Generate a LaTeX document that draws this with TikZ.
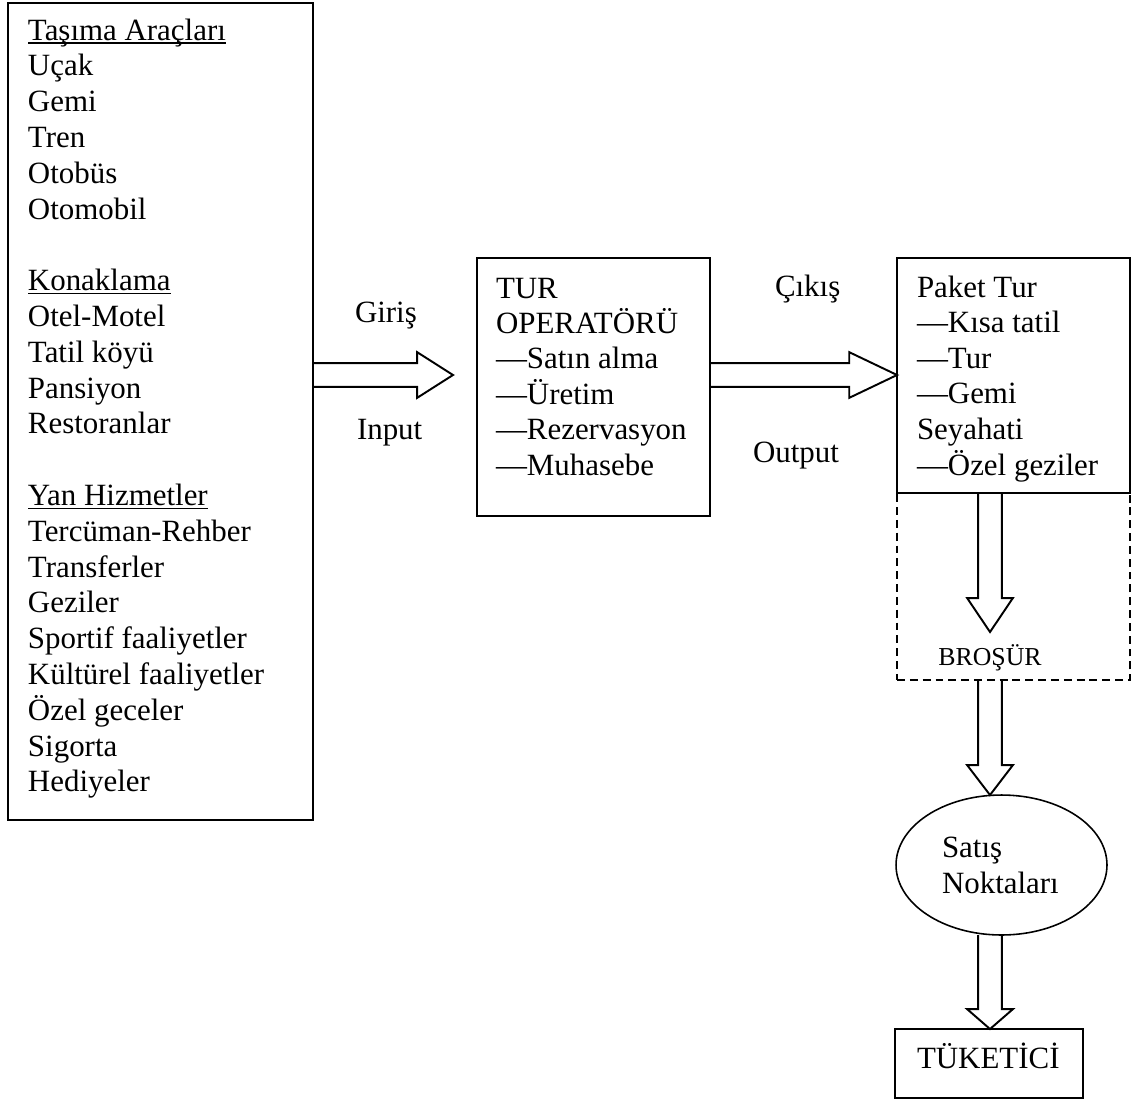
\documentclass[tikz,border=0pt]{standalone}
\usepackage{fontspec}
\setmainfont{Liberation Serif}
\usetikzlibrary{calc,shapes.geometric}

\begin{document}
\begin{tikzpicture}[x=0.02cm,y=-0.02cm,
  box/.style={draw, rectangle, line width=1.1pt, inner sep=0pt, outer sep=0pt},
  dashbox/.style={box, dash pattern=on 4.5pt off 2.8pt},
  txt/.style={inner sep=0pt, outer sep=0pt, anchor=base west, font=\fontsize{17.6}{20}\selectfont},
  head len/.store in=\arrowhl, head len=20pt,
  harrow/.style={line width=1.1pt, line join=miter, to path={
    let \p1=(\tikztostart), \p2=(\tikztotarget) in
    (\x1,\y1+6.8pt) -- (\x2-\arrowhl,\y1+6.8pt) -- (\x2-\arrowhl,\y1+13pt) -- (\x2,\y1)
    -- (\x2-\arrowhl,\y1-13pt) -- (\x2-\arrowhl,\y1-6.8pt) -- (\x1,\y1-6.8pt)}},
  varrow/.style={line width=1.1pt, line join=miter, to path={
    let \p1=(\tikztostart), \p2=(\tikztotarget) in
    (\x1+6.8pt,\y1) -- (\x1+6.8pt,\y2+\arrowhl) -- (\x1+13pt,\y2+\arrowhl) -- (\x1,\y2)
    -- (\x1-13pt,\y2+\arrowhl) -- (\x1-6.8pt,\y2+\arrowhl) -- (\x1-6.8pt,\y1)}}]

\useasboundingbox (0,0) rectangle (1138,1102);

% boxes
\node[box, minimum width=6.1cm, minimum height=16.34cm] (src) at (160.5,411.5) {};
\node[box, minimum width=4.66cm, minimum height=5.16cm] (op) at (593.5,387) {};
\node[dashbox, minimum width=4.66cm, minimum height=3.74cm] (broch) at (1013.5,586.5) {};
\node[box, fill=white, minimum width=4.66cm, minimum height=4.7cm] (pkt) at (1013.5,375.5) {};
\node[draw, ellipse, line width=0.9pt, inner sep=0pt, outer sep=0pt,
      minimum width=4.22cm, minimum height=2.8cm] (ell) at (1001.5,865) {};
\node[box, minimum width=3.76cm, minimum height=1.38cm] (tuk) at (989,1063.5) {};

% left list of inputs
\foreach \i/\t in {0/Taşıma Araçları, 1/Uçak, 2/Gemi, 3/Tren, 4/Otobüs, 5/Otomobil,
                   7/Konaklama, 8/Otel-Motel, 9/Tatil köyü, 10/Pansiyon, 11/Restoranlar,
                   13/Yan Hizmetler, 14/Tercüman-Rehber, 15/Transferler, 16/Geziler,
                   17/Sportif faaliyetler, 18/Kültürel faaliyetler, 19/Özel geceler,
                   20/Sigorta, 21/Hediyeler}
  \node[txt] (s\i) at (28,{40+35.8*\i}) {\t};
\foreach \i in {0,7,13}
  \draw[line width=0.9pt] ([yshift=-0.06cm]s\i.base west) -- ([yshift=-0.06cm]s\i.base east);

% tour operator
\foreach \i/\t in {0/TUR, 1/OPERATÖRÜ, 2/—Satın alma, 3/—Üretim, 4/—Rezervasyon, 5/—Muhasebe}
  \node[txt] (o\i) at (496,{298+35.4*\i}) {\t};

% package tour
\foreach \i/\t in {0/Paket Tur, 1/—Kısa tatil, 2/—Tur, 3/—Gemi, 4/Seyahati, 5/—Özel geziler}
  \node[txt] (p\i) at (917,{297+35.6*\i}) {\t};

% arrow labels
\node[txt] (giris) at (355,322) {Giriş};
\node[txt] (input) at (357,439) {Input};
\node[txt] (cikis) at (775,296) {Çıkış};
\node[txt] (output) at (753,462) {Output};
\node[txt, anchor=base, font=\fontsize{14.7}{17}\selectfont] (brlabel) at (990,665) {BROŞÜR};
\node[txt] (satis1) at (942,857) {Satış};
\node[txt] (satis2) at (942,893) {Noktaları};
\node[txt] (tuktxt) at (917,1068) {TÜKETİCİ};

% block arrows
\coordinate (lvl) at (0,375);
\coordinate (col) at (990,0);
\coordinate (intip) at (453,375);
\coordinate (btip) at (990,632);

\draw[harrow, head len=20.4pt] (src.east |- lvl) to (intip);
\draw[harrow, head len=27.2pt] (op.east |- lvl) to (pkt.west |- lvl);
\draw[varrow, head len=19.3pt] (pkt.south -| col) to (btip);
\draw[varrow, head len=17pt] (broch.south -| col) to (ell.north -| col);
\draw[varrow, head len=11.3pt] (ell.south -| col) to (tuk.north -| col);
\end{tikzpicture}
\end{document}
